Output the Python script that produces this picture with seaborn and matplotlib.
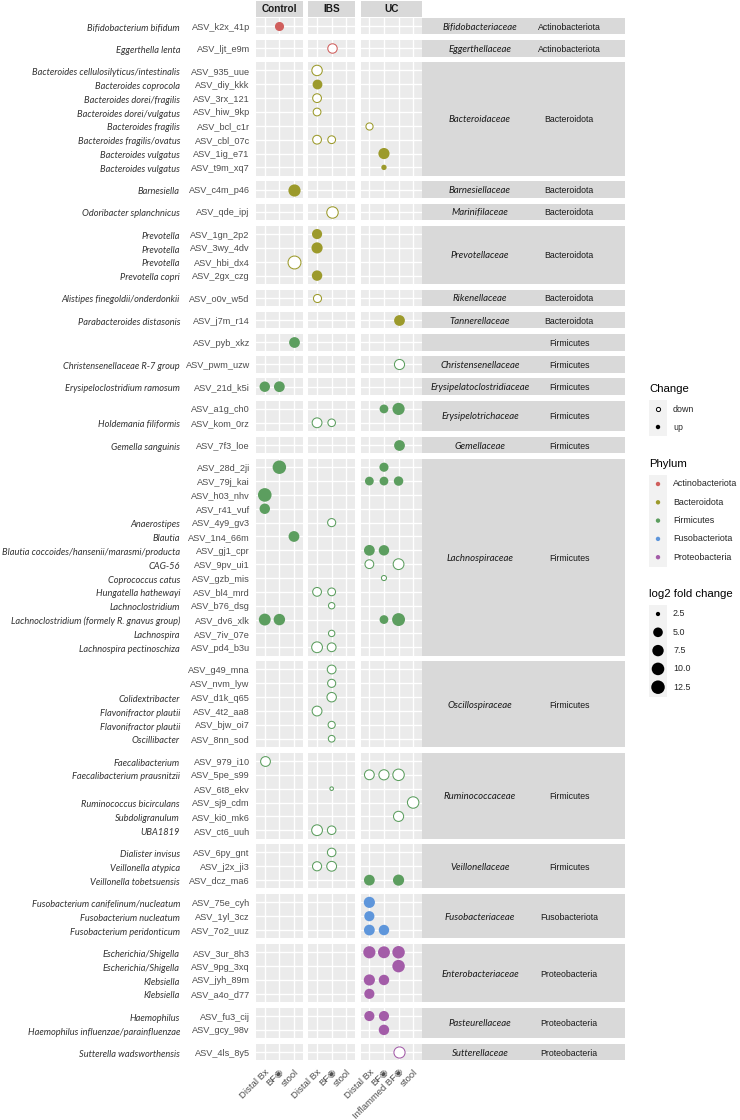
import numpy as np
import pandas as pd
import seaborn as sns
import matplotlib.pyplot as plt
import matplotlib.colors as mcolors
from matplotlib.patches import Rectangle

sns.set_style("white")
plt.rcParams['font.family'] = ['Liberation Sans', 'DejaVu Sans']

# ---- data ----
conds = ["Control", "IBS", "UC"]
sites = {"Control": ["Distal Bx", "BF", "stool"],
         "IBS": ["Distal Bx", "BF", "stool"],
         "UC": ["Distal Bx", "BF", "Inflammed BF", "stool"]}
site_labels = {"Distal Bx": "Distal Bx", "BF": "BF\u25C9",
               "Inflammed BF": "Inflammed BF\u25C9", "stool": "stool"}

fam = ["Bifidobacteriaceae", "Eggerthellaceae", "Bacteroidaceae", "Barnesiellaceae",
       "Marinifilaceae", "Prevotellaceae", "Rikenellaceae", "Tannerellaceae", "",
       "Christensenellaceae", "Erysipelatoclostridiaceae", "Erysipelotrichaceae",
       "Gemellaceae", "Lachnospiraceae", "Oscillospiraceae", "Ruminococcaceae",
       "Veillonellaceae", "Fusobacteriaceae", "Enterobacteriaceae", "Pasteurellaceae",
       "Sutterellaceae"]
fam_phylum = ["Actinobacteriota", "Actinobacteriota", "Bacteroidota", "Bacteroidota",
              "Bacteroidota", "Bacteroidota", "Bacteroidota", "Bacteroidota", "Firmicutes",
              "Firmicutes", "Firmicutes", "Firmicutes", "Firmicutes", "Firmicutes",
              "Firmicutes", "Firmicutes", "Firmicutes", "Fusobacteriota", "Proteobacteria",
              "Proteobacteria", "Proteobacteria"]
fam_n = [1, 1, 8, 1, 1, 4, 1, 1, 1, 1, 1, 2, 1, 14, 6, 6, 3, 3, 4, 2, 1]

asv_ids = ["k2x_41p", "ljt_e9m", "935_uue", "diy_kkk", "3rx_121", "hiw_9kp", "bcl_c1r",
           "cbl_07c", "1ig_e71", "t9m_xq7", "c4m_p46", "qde_ipj", "1gn_2p2", "3wy_4dv",
           "hbi_dx4", "2gx_czg", "o0v_w5d", "j7m_r14", "pyb_xkz", "pwm_uzw", "21d_k5i",
           "a1g_ch0", "kom_0rz", "7f3_loe", "28d_2ji", "79j_kai", "h03_nhv", "r41_vuf",
           "4y9_gv3", "1n4_66m", "gj1_cpr", "9pv_ui1", "gzb_mis", "bl4_mrd", "b76_dsg",
           "dv6_xlk", "7iv_07e", "pd4_b3u", "g49_mna", "nvm_lyw", "d1k_q65", "4t2_aa8",
           "bjw_oi7", "8nn_sod", "979_i10", "5pe_s99", "6t8_ekv", "sj9_cdm", "ki0_mk6",
           "ct6_uuh", "6py_gnt", "j2x_ji3", "dcz_ma6", "75e_cyh", "1yl_3cz", "7o2_uuz",
           "3ur_8h3", "9pg_3xq", "jyh_89m", "a4o_d77", "fu3_cij", "gcy_98v", "4ls_8y5"]
species = ["Bifidobacterium bifidum", "Eggerthella lenta",
           "Bacteroides cellulosilyticus/intestinalis", "Bacteroides coprocola",
           "Bacteroides dorei/fragilis", "Bacteroides dorei/vulgatus", "Bacteroides fragilis",
           "Bacteroides fragilis/ovatus", "Bacteroides vulgatus", "Bacteroides vulgatus",
           "Barnesiella", "Odoribacter splanchnicus", "Prevotella", "Prevotella", "Prevotella",
           "Prevotella copri", "Alistipes finegoldii/onderdonkii", "Parabacteroides distasonis",
           "", "Christensenellaceae R-7 group", "Erysipeloclostridium ramosum", "",
           "Holdemania filiformis", "Gemella sanguinis", "", "", "", "", "Anaerostipes",
           "Blautia", "Blautia coccoides/hansenii/marasmi/producta", "CAG-56",
           "Coprococcus catus", "Hungatella hathewayi", "Lachnoclostridium",
           "Lachnoclostridium (formely R. gnavus group)", "Lachnospira",
           "Lachnospira pectinoschiza", "", "", "Colidextribacter", "Flavonifractor plautii",
           "Flavonifractor plautii", "Oscillibacter", "Faecalibacterium",
           "Faecalibacterium prausnitzii", "", "Ruminococcus bicirculans", "Subdoligranulum",
           "UBA1819", "Dialister invisus", "Veillonella atypica", "Veillonella tobetsuensis",
           "Fusobacterium canifelinum/nucleatum", "Fusobacterium nucleatum",
           "Fusobacterium peridonticum", "Escherichia/Shigella", "Escherichia/Shigella",
           "Klebsiella", "Klebsiella", "Haemophilus", "Haemophilus influenzae/parainfluenzae",
           "Sutterella wadsworthensis"]

# significant ASVs: one entry per dot
pt_asv = ["k2x_41p", "ljt_e9m", "935_uue", "diy_kkk", "3rx_121", "hiw_9kp", "bcl_c1r",
          "cbl_07c", "cbl_07c", "1ig_e71", "t9m_xq7", "c4m_p46", "qde_ipj", "1gn_2p2",
          "3wy_4dv", "hbi_dx4", "2gx_czg", "o0v_w5d", "j7m_r14", "pyb_xkz", "pwm_uzw",
          "21d_k5i", "21d_k5i", "a1g_ch0", "a1g_ch0", "kom_0rz", "kom_0rz", "7f3_loe",
          "28d_2ji", "28d_2ji", "79j_kai", "79j_kai", "79j_kai", "h03_nhv", "r41_vuf",
          "4y9_gv3", "1n4_66m", "gj1_cpr", "gj1_cpr", "9pv_ui1", "9pv_ui1", "gzb_mis",
          "bl4_mrd", "bl4_mrd", "b76_dsg", "dv6_xlk", "dv6_xlk", "dv6_xlk", "dv6_xlk",
          "7iv_07e", "pd4_b3u", "pd4_b3u", "g49_mna", "nvm_lyw", "d1k_q65", "4t2_aa8",
          "bjw_oi7", "8nn_sod", "979_i10", "5pe_s99", "5pe_s99", "5pe_s99", "6t8_ekv",
          "sj9_cdm", "ki0_mk6", "ct6_uuh", "ct6_uuh", "6py_gnt", "j2x_ji3", "j2x_ji3",
          "dcz_ma6", "dcz_ma6", "75e_cyh", "1yl_3cz", "7o2_uuz", "7o2_uuz", "3ur_8h3",
          "3ur_8h3", "3ur_8h3", "9pg_3xq", "jyh_89m", "jyh_89m", "a4o_d77", "fu3_cij",
          "fu3_cij", "gcy_98v", "4ls_8y5"]
pt_cond = ["Control", "IBS", "IBS", "IBS", "IBS", "IBS", "UC",
           "IBS", "IBS", "UC", "UC", "Control", "IBS", "IBS",
           "IBS", "Control", "IBS", "IBS", "UC", "Control", "UC",
           "Control", "Control", "UC", "UC", "IBS", "IBS", "UC",
           "Control", "UC", "UC", "UC", "UC", "Control", "Control",
           "IBS", "Control", "UC", "UC", "UC", "UC", "UC",
           "IBS", "IBS", "IBS", "Control", "Control", "UC", "UC",
           "IBS", "IBS", "IBS", "IBS", "IBS", "IBS", "IBS",
           "IBS", "IBS", "Control", "UC", "UC", "UC", "IBS",
           "UC", "UC", "IBS", "IBS", "IBS", "IBS", "IBS",
           "UC", "UC", "UC", "UC", "UC", "UC", "UC",
           "UC", "UC", "UC", "UC", "UC", "UC", "UC",
           "UC", "UC", "UC"]
pt_site = ["BF", "BF", "Distal Bx", "Distal Bx", "Distal Bx", "Distal Bx", "Distal Bx",
           "Distal Bx", "BF", "BF", "BF", "stool", "BF", "Distal Bx",
           "Distal Bx", "stool", "Distal Bx", "Distal Bx", "Inflammed BF", "stool", "Inflammed BF",
           "Distal Bx", "BF", "BF", "Inflammed BF", "Distal Bx", "BF", "Inflammed BF",
           "BF", "BF", "Distal Bx", "BF", "Inflammed BF", "Distal Bx", "Distal Bx",
           "BF", "stool", "Distal Bx", "BF", "Distal Bx", "Inflammed BF", "BF",
           "Distal Bx", "BF", "BF", "Distal Bx", "BF", "BF", "Inflammed BF",
           "BF", "Distal Bx", "BF", "BF", "BF", "BF", "Distal Bx",
           "BF", "BF", "Distal Bx", "Distal Bx", "BF", "Inflammed BF", "BF",
           "stool", "Inflammed BF", "Distal Bx", "BF", "BF", "Distal Bx", "BF",
           "Distal Bx", "Inflammed BF", "Distal Bx", "Distal Bx", "Distal Bx", "BF", "Distal Bx",
           "BF", "Inflammed BF", "Inflammed BF", "Distal Bx", "BF", "Distal Bx", "Distal Bx",
           "BF", "BF", "Inflammed BF"]
pt_change = ["up", "down", "down", "up", "down", "down", "down",
             "down", "down", "up", "up", "up", "down", "up",
             "up", "down", "up", "down", "up", "up", "down",
             "up", "up", "up", "up", "down", "down", "up",
             "up", "up", "up", "up", "up", "up", "up",
             "down", "up", "up", "up", "down", "down", "down",
             "down", "down", "down", "up", "up", "up", "up",
             "down", "down", "down", "down", "down", "down", "down",
             "down", "down", "down", "down", "down", "down", "down",
             "down", "down", "down", "down", "down", "down", "down",
             "up", "up", "up", "up", "up", "up", "up",
             "up", "up", "up", "up", "up", "up", "up",
             "up", "up", "down"]
pt_lfc = [4.5, 4.8, 6.0, 5.2, 4.2, 3.5, 3.2,
          4.2, 3.5, 7.1, 2.65, 9.1, 7.6, 5.6,
          7.1, 10.8, 6.0, 3.7, 6.5, 6.5, 5.6,
          6.0, 6.5, 4.2, 9.1, 5.2, 3.4, 6.5,
          12.4, 4.5, 4.2, 4.2, 4.8, 13.5, 6.0,
          3.7, 6.5, 6.5, 6.0, 4.2, 6.5, 2.6,
          4.2, 3.5, 2.9, 8.5, 7.6, 4.2, 10.8,
          2.9, 6.5, 4.2, 4.2, 3.7, 4.8, 5.2,
          3.2, 3.0, 5.2, 5.2, 5.6, 7.6, 2.45,
          7.6, 5.6, 6.5, 4.0, 4.0, 4.5, 5.2,
          6.5, 7.1, 7.1, 5.6, 6.5, 6.0, 9.1,
          8.5, 9.8, 9.8, 7.1, 6.0, 5.6, 5.6,
          5.6, 6.0, 7.1]

phyla = ["Actinobacteriota", "Bacteroidota", "Firmicutes", "Fusobacteriota", "Proteobacteria"]
phylum_colors = ["#D05F5D", "#9C9A2B", "#5C9E5F", "#5E96DB", "#A35CA8"]
pal = dict(zip(phyla, phylum_colors))
size_breaks = [2.5, 5.0, 7.5, 10.0, 12.5]

# ---- tidy tables ----
rows = pd.DataFrame({"asv": asv_ids, "species": species})
rows["group"] = np.repeat(np.arange(len(fam)), fam_n)
rows["row"] = rows.groupby("group").cumcount()
rows["phylum"] = np.repeat(fam_phylum, fam_n)

df = pd.DataFrame({"asv": pt_asv, "cond": pt_cond, "site": pt_site,
                   "change": pt_change, "lfc": pt_lfc})
df = df.merge(rows, on="asv")
df["x"] = [sites[c].index(s) for c, s in zip(df["cond"], df["site"])]

# ---- layout (pixels) ----
W, H = 740, 1120
row_h = 13.85
gap_y = 5.6
top_y = 17.7
col_w = 14.6
cond_x = {"Control": 256.0, "IBS": 308.3, "UC": 360.6}
S = 96.0
size_norm = mcolors.PowerNorm(gamma=0.5, vmin=2.4, vmax=12.8)
tick_grey = "#4D4D4D"

fig = plt.figure(figsize=(W / 100, H / 100), dpi=100)


def px_axes(x, y, w, h):
    return fig.add_axes([x / W, 1 - (y + h) / H, w / W, h / H])


strips = []
y0 = top_y
for g, (fname, pname, n) in enumerate(zip(fam, fam_phylum, fam_n)):
    h = (n + 0.2) * row_h
    grp_rows = rows[rows["group"] == g]
    last = g == len(fam) - 1
    for c in conds:
        k = len(sites[c])
        ax = px_axes(cond_x[c], y0, (k + 0.2) * col_w, h)
        ax.set_facecolor("#EBEBEB")
        pts = df[(df["group"] == g) & (df["cond"] == c)]
        for chg in ["up", "down"]:
            p = pts[pts["change"] == chg]
            if p.empty:
                continue
            n0 = len(ax.collections)
            sns.scatterplot(data=p, x="x", y="row", hue="phylum", palette=pal,
                            size="lfc", sizes=(0, S), size_norm=size_norm,
                            linewidth=0, legend=False, ax=ax, zorder=3)
            if chg == "down":
                coll = ax.collections[n0]
                fc = coll.get_facecolors()
                coll.set_edgecolors(fc)
                coll.set_facecolors("white")
                coll.set_linewidths(0.75)
        ax.set_xlim(-0.6, k - 0.4)
        ax.set_ylim(n - 0.4, -0.6)
        ax.set_xticks(range(k))
        ax.set_yticks(range(n))
        ax.grid(True, color="white", linewidth=1.0)
        ax.set_axisbelow(True)
        for sp in ax.spines.values():
            sp.set_visible(False)
        ax.set_xlabel("")
        ax.set_ylabel("")
        if c == "Control":
            ax.set_yticklabels(["ASV_" + a for a in grp_rows["asv"]])
            ax.tick_params(axis="y", length=3, width=0.7, color="#333333",
                           labelsize=6.6, labelcolor=tick_grey, pad=1.5)
            for r, sp_name in zip(grp_rows["row"], grp_rows["species"]):
                if sp_name:
                    ax.annotate(sp_name, xy=(180 / W, r), xycoords=("figure fraction", "data"),
                                xytext=(0, -0.8), textcoords="offset points",
                                ha="right", va="center_baseline", fontsize=6.7, style="italic",
                                family=["Lato", "DejaVu Sans"], color="#333333")
        else:
            ax.tick_params(axis="y", length=0, labelleft=False)
        if last:
            ax.set_xticklabels([site_labels[s] for s in sites[c]], rotation=45,
                               ha="right", va="top", rotation_mode="anchor")
            ax.tick_params(axis="x", length=3, width=0.7, color="#333333",
                           labelsize=6.8, labelcolor=tick_grey, pad=2)
        else:
            ax.tick_params(axis="x", length=0, labelbottom=False)
    strips.append((y0, h, fname, pname))
    y0 += h + gap_y

# ---- overlay in pixel coordinates: strips and legends ----
ov = fig.add_axes([0, 0, 1, 1])
ov.set_xlim(0, W)
ov.set_ylim(H, 0)
ov.axis("off")

for c in conds:
    k = len(sites[c])
    ov.add_patch(Rectangle((cond_x[c], 1.0), (k + 0.2) * col_w, top_y - 1.7,
                           facecolor="#D9D9D9", edgecolor="none"))
    ov.text(cond_x[c] + (k + 0.2) * col_w / 2, (top_y - 0.7) / 2 + 0.6, c,
            ha="center", va="center", fontsize=7.2, fontweight="bold", color="#1A1A1A")

for ys, h, fname, pname in strips:
    ov.add_patch(Rectangle((422, ys), 203, h, facecolor="#D9D9D9", edgecolor="none"))
    ov.text(480, ys + h / 2, fname, ha="center", va="center_baseline", fontsize=6.9,
            style="italic", family=["Lato", "DejaVu Sans"], color="#1A1A1A")
    ov.text(569, ys + h / 2, pname, ha="center", va="center_baseline", fontsize=6.3,
            color="#1A1A1A")

# legends
lx, tx = 658, 673
ov.text(649, 389, "Change", ha="left", va="center", fontsize=8.2, color="black")
ov.add_patch(Rectangle((649, 400), 18, 36, facecolor="#F2F2F2", edgecolor="none"))
ov.scatter([lx], [409], s=9, facecolor="white", edgecolor="black", linewidth=0.7)
ov.scatter([lx], [427], s=10, facecolor="black", edgecolor="none")
ov.text(tx, 409, "down", ha="left", va="center", fontsize=6.4)
ov.text(tx, 427, "up", ha="left", va="center", fontsize=6.4)

ov.text(649, 464, "Phylum", ha="left", va="center", fontsize=8.2, color="black")
ov.add_patch(Rectangle((649, 475), 18, 91.5, facecolor="#F2F2F2", edgecolor="none"))
for i, ph in enumerate(phyla):
    yy = 484 + i * 18.3
    ov.scatter([lx], [yy], s=10, facecolor=pal[ph], edgecolor="none")
    ov.text(tx, yy, ph, ha="left", va="center", fontsize=6.4)

ov.text(649, 594, "log2 fold change", ha="left", va="center", fontsize=8.2, color="black")
ov.add_patch(Rectangle((649, 605), 18, 91.5, facecolor="#F2F2F2", edgecolor="none"))
for i, v in enumerate(size_breaks):
    yy = 614 + i * 18.3
    ov.scatter([lx], [yy], s=S * float(size_norm(v)), facecolor="black", edgecolor="none")
    ov.text(tx, yy, f"{v:.1f}", ha="left", va="center", fontsize=6.4)

fig.savefig("out.png", dpi=100)
